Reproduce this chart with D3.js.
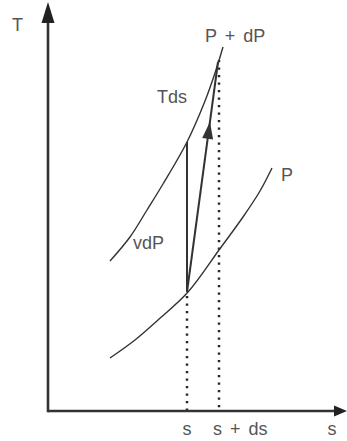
<!DOCTYPE html>
<html>
<head>
<meta charset="utf-8">
<script src="https://cdn.jsdelivr.net/npm/d3@7"></script>
<style>
  html, body { margin: 0; padding: 0; background: #fff; }
  svg { display: block; }
  text { font-family: "Liberation Sans", Arial, sans-serif; fill: #555; font-size: 18px; word-spacing: 3px; }
</style>
</head>
<body>
<svg id="chart" width="347" height="441"></svg>
<script>
// ---- data (schematic units: entropy s, temperature T) ----
const upperS = [62, 82, 99, 115, 139, 157, 167, 175];          // isobar P + dP
const upperT = [150, 174, 201, 227, 269, 310, 338, 364];
const lowerS = [62, 87, 110, 140, 171, 195, 212, 224];         // isobar P
const lowerT = [53, 71, 91, 119, 161, 194, 220, 243];
const sMarks = [139, 171];                                     // s, s + ds
const sLabels = ["s", "s + ds"];
const axisLabels = ["T", "s"];
const curveLabels = ["P + dP", "Tds", "vdP", "P"];
const stateStart = { s: 139, T: 119 };     // state on P at s
const stateVert  = { s: 139, T: 269 };     // on P + dP at s
const stateEnd   = { s: 170, T: 349 };     // on P + dP near s + ds
const dotTop = 351;

// ---- scales ----
const x = d3.scaleLinear().domain([0, 300]).range([48, 348]);
const y = d3.scaleLinear().domain([0, 410]).range([411, 1]);

const svg = d3.select("#chart");
const ink = "#333";

// dotted verticals
svg.append("line")
  .attr("x1", x(sMarks[0])).attr("x2", x(sMarks[0]))
  .attr("y1", y(stateStart.T) + 4).attr("y2", y(0))
  .attr("stroke", "#2a2a2a").attr("stroke-width", 2.5).attr("stroke-dasharray", "2.2,5.3");
svg.append("line")
  .attr("x1", x(sMarks[1])).attr("x2", x(sMarks[1]))
  .attr("y1", y(dotTop)).attr("y2", y(0))
  .attr("stroke", "#2a2a2a").attr("stroke-width", 2.5).attr("stroke-dasharray", "2.2,5.3");

// curves
const line = d3.line().x(d => x(d[0])).y(d => y(d[1])).curve(d3.curveCatmullRom);
svg.append("path").datum(upperS.map((s, i) => [s, upperT[i]]))
  .attr("d", line).attr("fill", "none").attr("stroke", ink).attr("stroke-width", 1.4);
svg.append("path").datum(lowerS.map((s, i) => [s, lowerT[i]]))
  .attr("d", line).attr("fill", "none").attr("stroke", ink).attr("stroke-width", 1.4);

// vertical process line
svg.append("line")
  .attr("x1", x(stateStart.s)).attr("x2", x(stateVert.s))
  .attr("y1", y(stateStart.T)).attr("y2", y(stateVert.T))
  .attr("stroke", ink).attr("stroke-width", 2);

// arrow process line
const p0 = [x(stateStart.s), y(stateStart.T)];
const p1 = [x(stateEnd.s), y(stateEnd.T)];
svg.append("line")
  .attr("x1", p0[0]).attr("y1", p0[1]).attr("x2", p1[0]).attr("y2", p1[1])
  .attr("stroke", ink).attr("stroke-width", 2);
{
  const dx = p1[0] - p0[0], dy = p1[1] - p0[1];
  const len = Math.hypot(dx, dy);
  const ux = dx / len, uy = dy / len, nx = -uy, ny = ux;
  const f = 0.74;
  const tip = [p0[0] + f * dx, p0[1] + f * dy];
  const L = 17, W = 5.5;
  const b = [tip[0] - L * ux, tip[1] - L * uy];
  svg.append("path")
    .attr("d", `M${tip[0]},${tip[1]}L${b[0] + W * nx},${b[1] + W * ny}L${b[0] - W * nx},${b[1] - W * ny}Z`)
    .attr("fill", ink);
}

// axes
svg.append("line").attr("x1", x(0)).attr("x2", x(0)).attr("y1", y(0) + 1.25).attr("y2", y(392))
  .attr("stroke", ink).attr("stroke-width", 2.6);
svg.append("line").attr("x1", x(0)).attr("x2", x(287)).attr("y1", y(0)).attr("y2", y(0))
  .attr("stroke", ink).attr("stroke-width", 2.6);
// axis arrowheads
svg.append("path")
  .attr("d", `M${x(0)},${y(409)}L${x(0) - 6.5},${y(388)}L${x(0) + 6.5},${y(388)}Z`).attr("fill", "#222");
svg.append("path")
  .attr("d", `M${x(299)},${y(0)}L${x(286)},${y(0) - 5.5}L${x(286)},${y(0) + 5.5}Z`).attr("fill", "#222");

// axis labels
svg.append("text").attr("x", 17.5).attr("y", 31).attr("text-anchor", "middle").text(axisLabels[0]);
svg.append("text").attr("x", 332).attr("y", 435).attr("text-anchor", "middle").text(axisLabels[1]);
// tick labels
svg.append("text").attr("x", x(sMarks[0])).attr("y", 435).attr("text-anchor", "middle").text(sLabels[0]);
svg.append("text").attr("x", x(sMarks[1]) - 6).attr("y", 435).attr("text-anchor", "start").text(sLabels[1]);
// curve labels
svg.append("text").attr("x", 205).attr("y", 42).text(curveLabels[0]);
svg.append("text").attr("x", 157).attr("y", 103).text(curveLabels[1]);
svg.append("text").attr("x", 133).attr("y", 249).text(curveLabels[2]);
svg.append("text").attr("x", 281).attr("y", 181).text(curveLabels[3]);
</script>
</body>
</html>
